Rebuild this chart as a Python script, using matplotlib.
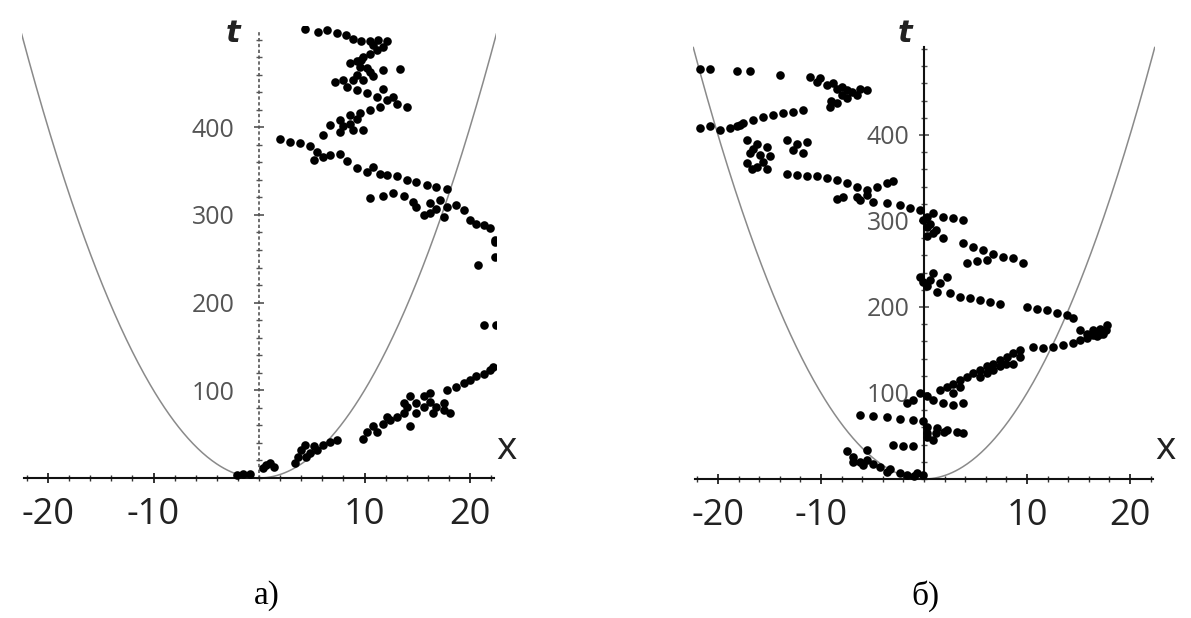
import numpy as np
import matplotlib
matplotlib.use("Agg")
from matplotlib import pyplot as plt
from matplotlib.ticker import FixedLocator, MultipleLocator

plt.rcParams['font.family'] = ['Open Sans', 'DejaVu Sans']
plt.rcParams['axes.unicode_minus'] = False

W, H = 1191, 618

# panel a) - points of the trajectory (x, t)
xa = [-2.1, -1.5, -0.85, 0.4, 0.7, 1.0, 1.4,
      3.4, 3.7, 4.0, 4.4, 4.5, 4.8, 5.2, 5.5, 6.1, 6.7, 7.4,
      9.9, 10.2, 10.8, 11.2, 11.8, 12.1, 12.4, 13.1, 13.7, 13.7, 14.0, 14.3, 14.3, 14.9, 14.9,
      15.6, 15.6, 16.2, 16.2, 16.5, 16.8, 17.5, 17.5, 17.8, 18.1, 18.7, 19.4, 20.0, 20.6, 21.3, 21.9, 22.2,
      21.3, 22.5, 20.8, 22.4, 22.4,
      22.4, 21.9, 21.3, 20.6, 20.0, 19.4, 18.7, 17.8, 16.8, 16.2, 15.6, 14.6, 13.7, 12.7, 11.8, 10.5,
      16.2, 17.2, 14.9, 17.5,
      17.8, 16.8, 15.9, 14.9, 14.0, 13.1, 12.1, 11.5, 10.8, 10.2, 9.3, 8.3, 7.7, 6.7, 5.2, 6.1, 5.5,
      4.8, 3.9, 2.9, 2.0,
      6.1, 9.9, 8.9, 8.0, 6.7, 7.7, 8.6, 9.6, 10.5, 11.5, 14.0, 13.1, 12.1, 11.2, 10.2, 9.3, 8.3, 7.2,
      8.0, 8.9, 9.9, 10.8, 13.4, 11.8, 10.2, 9.6, 8.6, 9.3, 9.9, 10.5, 11.2, 11.8, 12.1, 11.3, 10.5,
      9.7, 8.9, 8.2, 7.4, 6.4, 5.6, 4.4,
      10.8, 9.7, 10.5, 9.3, 11.8, 12.7, 8.6, 9.3, 7.7]
ta = [3, 5, 5, 11, 15, 17, 13,
      17, 24, 32, 38, 24, 28, 36, 32, 38, 41, 43,
      45, 53, 59, 53, 62, 70, 66, 70, 74, 85, 81, 59, 93, 85, 74,
      81, 93, 87, 97, 74, 81, 78, 85, 100, 74, 104, 108, 112, 116, 119, 123, 127,
      174, 174, 243, 252, 269,
      271, 285, 288, 290, 294, 306, 311, 309, 307, 302, 300, 315, 321, 325, 321, 319,
      313, 317, 309, 298,
      330, 332, 334, 338, 340, 344, 345, 347, 355, 349, 353, 361, 370, 368, 363, 366, 372,
      378, 382, 383, 387,
      391, 397, 397, 401, 403, 408, 414, 416, 420, 423, 423, 427, 431, 435, 439, 442, 446, 452,
      454, 454, 454, 458, 466, 465, 467, 469, 473, 475, 480, 484, 488, 492, 498, 499, 498,
      498, 501, 505, 507, 511, 509, 512,
      494, 477, 463, 460, 444, 435, 404, 409, 395]

# panel б) - points of the trajectory (x, t)
xb = [-21.75, -20.78, -18.19, -16.89, -13.98, -11.07, -10.42, -9.45, -8.48, -7.51, -6.21, -5.57,
      -6.54, -7.51, -8.48, -9.13,
      -10.1, -8.8, -8.0, -7.0, -8.0, -9.0,
      -11.72, -12.69, -13.66, -14.63, -15.60, -16.57, -17.54, -18.19, -18.83, -20.78, -21.75,
      -19.8, -17.9,
      -17.22, -16.25, -15.28, -16.89, -15.92, -14.95, -17.22, -16.25, -15.28, -13.33, -12.36,
      -11.39, -12.69, -11.72, -16.6, -15.6, -16.7,
      -13.33, -12.36, -11.39, -10.42, -9.45, -8.48, -7.51, -6.54, -5.57, -4.60, -3.62, -2.98,
      -6.54, -5.57, -7.83, -8.48,
      -6.21, -4.92, -3.62, -2.33, -1.36, -0.39, 0.26, 0.91, 1.88, 2.85, 3.82, 0.26, 0.91, 1.88, 0.26,
      -0.06, 0.58, 1.2,
      3.82, 4.79, 5.76, 6.73, 7.70, 8.67, 9.64, 4.14, 5.11, 6.08,
      -0.39, 0.58, 1.55, 2.20, 0.26, 1.23, 2.52, 3.50, 4.47, 5.44, 6.41, 7.38, -0.06, 0.9,
      9.97, 10.94, 11.91, 12.88, 13.85, 14.50,
      15.15, 15.79, 16.44, 17.09, 17.73, 15.79, 16.76, 17.41, 15.15, 16.4, 17.1, 17.7,
      14.50, 13.53, 12.56, 11.59, 10.61,
      9.32, 8.67, 8.03, 7.38, 6.73, 6.08, 5.44, 4.79, 4.14, 3.50, 2.85, 2.20, 1.55,
      8.67, 7.38, 6.08, 3.50, 2.85, 8.0, 6.7, 5.4, 9.3,
      -0.39, 0.26, 0.91, 1.88, 2.85, 3.82, -1.04, -1.68,
      -6.21, -4.92, -3.62, -2.33, -1.04, -0.06,
      0.26, 1.23, 2.20, 3.17, 3.82, 0.26, 0.91, 0.26, 1.2, 1.9,
      -7.51, -6.86, -6.21, -5.57, -4.92, -4.27, -3.30, -2.33, -1.68, -0.71, -0.06,
      -6.9, -5.9, -3.6, -1.0,
      -2.98, -2.01, -1.04, -5.57]
tb = [477, 477, 474, 474, 470, 468, 462, 458, 454, 452, 454, 452,
      446, 443, 437, 433,
      466, 460, 456, 450, 446, 439,
      429, 427, 425, 423, 421, 417, 414, 410, 408, 410, 408,
      406, 412,
      394, 390, 386, 379, 377, 375, 367, 363, 361, 394, 390,
      392, 383, 379, 384, 369, 361,
      355, 353, 352, 352, 350, 348, 344, 340, 336, 340, 344, 346,
      328, 330, 328, 326,
      324, 322, 321, 319, 315, 313, 305, 309, 305, 303, 301, 293, 286, 280, 282,
      301, 297, 290,
      274, 270, 266, 262, 258, 257, 251, 251, 253, 255,
      235, 231, 228, 235, 224, 218, 216, 212, 210, 208, 206, 204, 229, 239,
      200, 198, 196, 193, 191, 187,
      173, 169, 173, 175, 179, 164, 166, 169, 162, 167, 169, 173,
      158, 156, 154, 152, 154,
      150, 146, 142, 138, 134, 131, 127, 123, 119, 115, 111, 107, 103,
      134, 131, 123, 107, 100, 134, 127, 119, 142,
      100, 96, 92, 88, 86, 88, 92, 88,
      74, 73, 72, 70, 69, 67,
      61, 59, 57, 55, 53, 49, 45, 53, 53, 55,
      32, 26, 20, 22, 18, 14, 12, 7, 5, 7, 5,
      20, 16, 8, 3,
      40, 38, 38, 34]

x_major = [-20, -10, 10, 20]
t_major = [100, 200, 300, 400]


def draw_panel(rect, xs, ts, xmax, tmax, ttop, dotted, ylab_pad):
    ax = fig.add_axes(rect)
    ax.patch.set_alpha(0)
    ax.set_xlim(-xmax, xmax)
    ax.set_ylim(-8, ttop)

    # parabola t = x^2
    xp = np.linspace(-xmax, xmax, 400)
    ax.plot(xp, xp ** 2, color='#8a8a8a', lw=1.1, zorder=1)

    ax.plot(xs, ts, 'o', ms=6.2, color='black', mec='none', zorder=3)

    ax.spines['top'].set_visible(False)
    ax.spines['right'].set_visible(False)
    ax.spines['left'].set_position('zero')
    ax.spines['bottom'].set_position('zero')
    ax.spines['left'].set_bounds(0, tmax)
    ax.spines['bottom'].set_bounds(-xmax + 0.2, xmax - 0.2)
    ax.spines['bottom'].set_linewidth(1.5)
    ax.spines['bottom'].set_color('#111111')
    if dotted:
        ax.spines['left'].set_linestyle((0, (1, 2.5)))
        ax.spines['left'].set_color('#555555')
        ax.spines['left'].set_linewidth(1.2)
    else:
        ax.spines['left'].set_color('#111111')
        ax.spines['left'].set_linewidth(1.5)

    ax.xaxis.set_major_locator(FixedLocator(x_major))
    ax.xaxis.set_minor_locator(MultipleLocator(2))
    ax.yaxis.set_major_locator(FixedLocator(t_major))
    ax.yaxis.set_minor_locator(MultipleLocator(20))
    ax.tick_params(axis='x', which='major', direction='inout', length=7, width=1.2,
                   labelsize=26, colors='#111111', labelcolor='#222222', pad=10)
    ax.tick_params(axis='x', which='minor', direction='inout', length=4, width=1.0,
                   colors='#333333')
    ax.tick_params(axis='y', which='major', direction='inout', length=7, width=1.1,
                   labelsize=18, colors='#444444', labelcolor='#555555', pad=ylab_pad)
    ax.tick_params(axis='y', which='minor', direction='inout', length=4, width=1.0,
                   colors='#555555')
    return ax


fig = plt.figure(figsize=(W / 100, H / 100), dpi=100)

# left panel: x=0 at px 259, 10.55 px/unit; t=0 at py 478, 0.877 px/unit
xa_max, ya_top = 22.5, 515
left_px = 259 - xa_max * 10.55
bot_px = 478 + 8 * 0.877
top_px = 478 - ya_top * 0.877
draw_panel([left_px / W, 1 - bot_px / H, 2 * xa_max * 10.55 / W, (bot_px - top_px) / H],
           xa, ta, xa_max, 511, ya_top, True, 14)

# right panel: x=0 at px 924, 10.3 px/unit; t=0 at py 479, 0.86 px/unit
xb_max, yb_top = 22.4, 505
left_px = 924 - xb_max * 10.3
bot_px = 479 + 8 * 0.86
top_px = 479 - yb_top * 0.86
draw_panel([left_px / W, 1 - bot_px / H, 2 * xb_max * 10.3 / W, (bot_px - top_px) / H],
           xb, tb, xb_max, 502, yb_top, False, 7)

# axis names
fig.text(506 / W, 1 - 449 / H, 'x', fontsize=28, color='#222222', ha='center', va='center')
fig.text(1165 / W, 1 - 449 / H, 'x', fontsize=28, color='#222222', ha='center', va='center')
fig.text(233 / W, 1 - 33 / H, 't', fontsize=22, style='italic', weight='bold',
         family='DejaVu Sans', color='#222222', ha='center', va='center')
fig.text(905 / W, 1 - 33 / H, 't', fontsize=22, style='italic', weight='bold',
         family='DejaVu Sans', color='#222222', ha='center', va='center')

# captions
fig.text(267 / W, 1 - 596 / H, 'а)', fontsize=24, family='Liberation Serif', ha='center', va='center')
fig.text(925 / W, 1 - 596 / H, 'б)', fontsize=24, family='Liberation Serif', ha='center', va='center')

fig.savefig('out.png', dpi=100)
